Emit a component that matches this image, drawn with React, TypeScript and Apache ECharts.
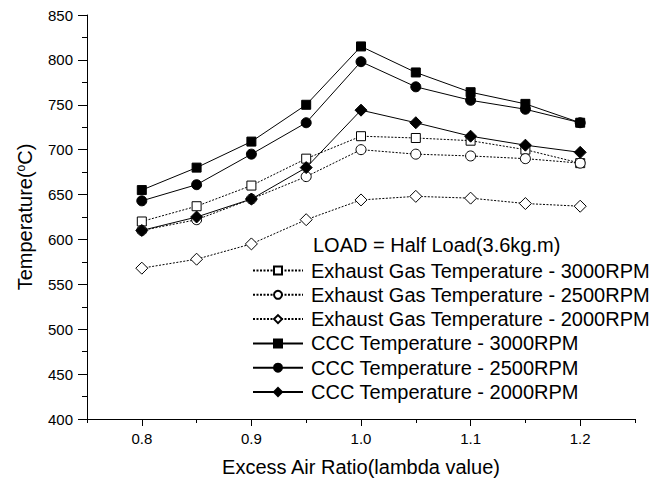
import React, { useEffect, useRef } from "react";
import * as echarts from "echarts";

const lambdaValues = [0.8, 0.85, 0.9, 0.95, 1.0, 1.05, 1.1, 1.15, 1.2];
const xTickLabels = [0.8, 0.9, 1.0, 1.1, 1.2];
const xMinorTicks = [0.75, 0.85, 0.95, 1.05, 1.15, 1.25];

const exhaust3000 = [620, 637, 660, 690, 715, 713, 710, 700, 685];
const exhaust2500 = [610, 622, 645, 670, 700, 695, 693, 690, 685];
const exhaust2000 = [568, 578, 595, 622, 644, 648, 646, 640, 637];
const ccc3000 = [655, 680, 709, 750, 815, 786, 764, 751, 730];
const ccc2500 = [643, 661, 695, 730, 798, 770, 755, 745, 730];
const ccc2000 = [610, 625, 645, 680, 744, 730, 715, 705, 697];

const seriesNames = [
  "Exhaust Gas Temperature - 3000RPM",
  "Exhaust Gas Temperature - 2500RPM",
  "Exhaust Gas Temperature - 2000RPM",
  "CCC Temperature - 3000RPM",
  "CCC Temperature - 2500RPM",
  "CCC Temperature - 2000RPM",
];

const FONT = "'Liberation Sans', Arial, sans-serif";

export default function App() {
  const ref = useRef<HTMLDivElement>(null);

  useEffect(() => {
    if (!ref.current) return;
    const chart = echarts.init(ref.current, undefined, { renderer: "svg" });

    const pair = (vals: number[]) => lambdaValues.map((x, i) => [x, vals[i]]);

    const mk = (
      name: string,
      vals: number[],
      symbol: string,
      size: number,
      filled: boolean,
      dotted: boolean
    ) => ({
      name,
      type: "line",
      data: pair(vals),
      symbol,
      symbolSize: size,
      showAllSymbol: true,
      lineStyle: { color: "#000", width: 1, type: dotted ? [2, 1.5] : "solid" },
      itemStyle: {
        color: filled ? "#000" : "#fff",
        borderColor: "#000",
        borderWidth: 1,
      },
      emphasis: { disabled: true },
      z: filled ? 3 : 2,
    });

    const option: any = {
      animation: false,
      backgroundColor: "#fff",
      textStyle: { fontFamily: FONT, color: "#000" },
      title: {
        text: "LOAD = Half Load(3.6kg.m)",
        left: 313,
        top: 235,
        textStyle: { fontFamily: FONT, fontSize: 20, fontWeight: "normal", color: "#000" },
        padding: 0,
      },
      grid: { left: 87, right: 34, top: 15, bottom: 66 },
      legend: {
        orient: "vertical",
        left: 252,
        top: 260.5,
        itemWidth: 50,
        itemHeight: 10,
        itemGap: 4.3,
        padding: 0,
        selectedMode: false,
        textStyle: {
          fontFamily: FONT,
          fontSize: 20,
          color: "#000",
          padding: [0, 0, 0, 3],
          lineHeight: 20,
        },
        data: seriesNames,
      },
      xAxis: [
        {
          type: "value",
          min: 0.75,
          max: 1.25,
          name: "Excess Air Ratio(lambda value)",
          nameLocation: "middle",
          nameGap: 38,
          nameTextStyle: { fontFamily: FONT, fontSize: 20, color: "#000" },
          axisLine: { show: true, onZero: false, lineStyle: { color: "#000", width: 1 } },
          axisTick: { show: true, length: 7, customValues: xTickLabels, lineStyle: { color: "#000" } },
          axisLabel: {
            customValues: xTickLabels,
            fontFamily: FONT,
            fontSize: 15,
            color: "#000",
            margin: 12,
            formatter: (v: number) => v.toFixed(1),
          },
          splitLine: { show: false },
        },
        {
          type: "value",
          min: 0.75,
          max: 1.25,
          position: "bottom",
          axisLine: { show: false },
          axisTick: { show: true, length: 4, customValues: xMinorTicks, lineStyle: { color: "#000" } },
          axisLabel: { show: false },
          splitLine: { show: false },
        },
      ],
      yAxis: {
        type: "value",
        min: 400,
        max: 850,
        interval: 50,
        name: "Temperature({sup|o}C)",
        nameLocation: "middle",
        nameGap: 52,
        nameTextStyle: {
          fontFamily: FONT,
          fontSize: 20,
          color: "#000",
          rich: {
            sup: { fontFamily: FONT, fontSize: 12, color: "#000", verticalAlign: "top", padding: [0, 0, 8, 0] },
          },
        },
        axisLine: { show: true, lineStyle: { color: "#000", width: 1 } },
        axisTick: { show: true, length: 9, lineStyle: { color: "#000" } },
        minorTick: { show: true, splitNumber: 2, length: 5, lineStyle: { color: "#000" } },
        axisLabel: { fontFamily: FONT, fontSize: 15, color: "#000", margin: 14 },
        splitLine: { show: false },
      },
      series: [
        mk(seriesNames[0], exhaust3000, "rect", 9, false, true),
        mk(seriesNames[1], exhaust2500, "circle", 10, false, true),
        mk(seriesNames[2], exhaust2000, "diamond", 12, false, true),
        mk(seriesNames[3], ccc3000, "rect", 9, true, false),
        mk(seriesNames[4], ccc2500, "circle", 10, true, false),
        mk(seriesNames[5], ccc2000, "diamond", 12, true, false),
      ],
    };

    chart.setOption(option);
    return () => chart.dispose();
  }, []);

  return (
    <div
      ref={ref}
      style={{ position: "fixed", left: 0, top: 0, width: 669, height: 485, background: "#fff" }}
    />
  );
}
